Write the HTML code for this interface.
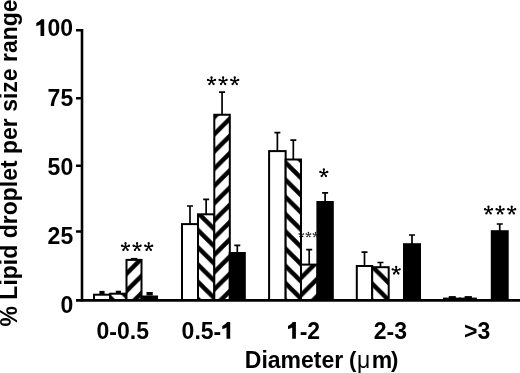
<!DOCTYPE html>
<html><head><meta charset="utf-8"><style>
html,body{margin:0;padding:0;background:#fff;}
body{width:520px;height:373px;overflow:hidden;}
svg{display:block;filter:grayscale(1);}
text{font-family:"Liberation Sans",sans-serif;font-weight:bold;fill:#000;}
text.n{font-weight:normal;}
</style></head><body>
<svg width="520" height="373" viewBox="0 0 520 373">
<defs>
<pattern id="bs" patternUnits="userSpaceOnUse" width="17.24" height="17.24" patternTransform="translate(0 14.90)">
<rect width="17.24" height="17.24" fill="#fff"/>
<path d="M-5 -5L22.24 22.24M-22.24 -5L5 22.24M12.24 -5L39.48 22.24" stroke="#000" stroke-width="4.5" fill="none"/>
</pattern>
<pattern id="fs" patternUnits="userSpaceOnUse" width="17.24" height="17.24" patternTransform="translate(0 3.70)">
<rect width="17.24" height="17.24" fill="#fff"/>
<path d="M-5 22.24L22.24 -5M-22.24 22.24L5 -5M12.24 22.24L39.48 -5" stroke="#000" stroke-width="4.5" fill="none"/>
</pattern>
<pattern id="fs2" patternUnits="userSpaceOnUse" width="17.24" height="17.24" patternTransform="translate(0 10)">
<rect width="17.24" height="17.24" fill="#fff"/>
<path d="M-5 22.24L22.24 -5M-22.24 22.24L5 -5M12.24 22.24L39.48 -5" stroke="#000" stroke-width="4.5" fill="none"/>
</pattern>
</defs>
<g stroke="#000" stroke-width="2.0">
<rect x="94" y="294.7" width="16.2" height="5.3" fill="#fff"/>
<rect x="110.2" y="293.7" width="16.3" height="6.3" fill="url(#bs)"/>
<rect x="126.5" y="259.9" width="15" height="40.1" fill="url(#fs)"/>
<rect x="141.5" y="296.5" width="15.5" height="3.5" fill="#000"/>
<rect x="182" y="224.1" width="16" height="75.9" fill="#fff"/>
<rect x="198" y="214.3" width="16.3" height="85.7" fill="url(#bs)"/>
<rect x="214.3" y="114.75" width="15.5" height="185.25" fill="url(#fs)"/>
<rect x="229.8" y="253" width="15" height="47" fill="#000"/>
<rect x="269.1" y="151.1" width="16.55" height="148.9" fill="#fff"/>
<rect x="285.65" y="159.5" width="15.35" height="140.5" fill="url(#bs)"/>
<rect x="301" y="264.6" width="16.4" height="35.4" fill="url(#fs2)"/>
<rect x="317.4" y="202" width="15.4" height="98" fill="#000"/>
<rect x="356.8" y="266" width="15.4" height="34" fill="#fff"/>
<rect x="372.2" y="267.2" width="16.5" height="32.8" fill="url(#bs)"/>
<rect x="404" y="244.2" width="16" height="55.8" fill="#000"/>
<rect x="444" y="298.6" width="16" height="1.4" fill="#fff"/>
<rect x="460" y="298.6" width="15.9" height="1.4" fill="url(#bs)"/>
<rect x="491.8" y="231.2" width="15.9" height="68.8" fill="#000"/>
</g>
<g stroke="#000" stroke-width="1.7" fill="none">
<path d="M190 224.1V206M187 206H193"/>
<path d="M206.15 214.3V199.3M203.15 199.3H209.15"/>
<path d="M222.05 114.75V92.2M219.05 92.2H225.05"/>
<path d="M237.3 253V245.3M234.3 245.3H240.3"/>
<path d="M277.38 151.1V132.7M274.38 132.7H280.38"/>
<path d="M293.32 159.5V140.2M290.32 140.2H296.32"/>
<path d="M309.2 264.6V249.7M306.2 249.7H312.2"/>
<path d="M325.1 202V192.8M322.1 192.8H328.1"/>
<path d="M364.5 266V252.2M361.5 252.2H367.5"/>
<path d="M380.45 267.2V262.5M377.45 262.5H383.45"/>
<path d="M412 244.2V235M409 235H415"/>
<path d="M499.75 231.2V224M496.75 224H502.75"/>
</g>
<g stroke="#000" fill="none">
<path d="M82 29V301.5" stroke-width="2.6"/>
<path d="M76 300.3H520" stroke-width="2.8"/>
<path d="M76 30.2H82M76 98.2H82M76 165.8H82M76 231.5H82" stroke-width="2.4"/>
</g>
<g font-size="23" text-anchor="end">
<text x="73" y="36">00</text>
<text x="73.2" y="105.8">75</text>
<text x="73.2" y="175">50</text>
<text x="73.2" y="244">25</text>
<text x="73.2" y="313">0</text>
</g>
<g font-size="23" text-anchor="middle">
<text x="122.75" y="339.3">0<tspan dy="1">-</tspan><tspan dy="-1">0.5</tspan></text>
<text x="181.6" y="339.3" text-anchor="start">0.5<tspan dy="1">-</tspan></text>
<text x="299.67" y="339.3" text-anchor="start"><tspan dy="1">-</tspan><tspan dy="-1">2</tspan></text>
<text x="390.4" y="339.3">2<tspan dy="1">-</tspan><tspan dy="-1">3</tspan></text>
<text x="477.2" y="339.3">&gt;3</text>
</g>
<g font-size="23">
<text x="244.8" y="367.8">Diameter</text>
<text x="349" y="367" font-size="22">(</text>
<text class="n" x="357" y="367.8">&#956;</text>
<text x="371.7" y="367.8">m</text>
<text x="391" y="367" font-size="22">)</text>
</g>
<text transform="translate(17 326.5) rotate(-90)" font-size="23">% Lipid droplet per size range</text>
<path d="M125.5 246.9L125.5 243.2M125.5 246.9L129.02 245.76M125.5 246.9L127.67 249.89M125.5 246.9L123.33 249.89M125.5 246.9L121.98 245.76M137.1 246.9L137.1 243.2M137.1 246.9L140.62 245.76M137.1 246.9L139.27 249.89M137.1 246.9L134.93 249.89M137.1 246.9L133.58 245.76M148.7 246.9L148.7 243.2M148.7 246.9L152.22 245.76M148.7 246.9L150.87 249.89M148.7 246.9L146.53 249.89M148.7 246.9L145.18 245.76M211.5 81.1L211.5 77.4M211.5 81.1L215.02 79.96M211.5 81.1L213.67 84.09M211.5 81.1L209.33 84.09M211.5 81.1L207.98 79.96M223.1 81.1L223.1 77.4M223.1 81.1L226.62 79.96M223.1 81.1L225.27 84.09M223.1 81.1L220.93 84.09M223.1 81.1L219.58 79.96M234.7 81.1L234.7 77.4M234.7 81.1L238.22 79.96M234.7 81.1L236.87 84.09M234.7 81.1L232.53 84.09M234.7 81.1L231.18 79.96M488.5 210.4L488.5 206.7M488.5 210.4L492.02 209.26M488.5 210.4L490.67 213.39M488.5 210.4L486.33 213.39M488.5 210.4L484.98 209.26M500.1 210.4L500.1 206.7M500.1 210.4L503.62 209.26M500.1 210.4L502.27 213.39M500.1 210.4L497.93 213.39M500.1 210.4L496.58 209.26M511.7 210.4L511.7 206.7M511.7 210.4L515.22 209.26M511.7 210.4L513.87 213.39M511.7 210.4L509.53 213.39M511.7 210.4L508.18 209.26M323.8 173.1L323.8 169.4M323.8 173.1L327.32 171.96M323.8 173.1L325.97 176.09M323.8 173.1L321.63 176.09M323.8 173.1L320.28 171.96M396.2 270.5L396.2 266.8M396.2 270.5L399.72 269.36M396.2 270.5L398.37 273.49M396.2 270.5L394.03 273.49M396.2 270.5L392.68 269.36" stroke="#000" stroke-width="1.5" fill="none"/>
<g fill="#000"><circle cx="125.5" cy="243.2" r="1.15"/><circle cx="129.02" cy="245.76" r="1.15"/><circle cx="127.67" cy="249.89" r="1.15"/><circle cx="123.33" cy="249.89" r="1.15"/><circle cx="121.98" cy="245.76" r="1.15"/><circle cx="137.1" cy="243.2" r="1.15"/><circle cx="140.62" cy="245.76" r="1.15"/><circle cx="139.27" cy="249.89" r="1.15"/><circle cx="134.93" cy="249.89" r="1.15"/><circle cx="133.58" cy="245.76" r="1.15"/><circle cx="148.7" cy="243.2" r="1.15"/><circle cx="152.22" cy="245.76" r="1.15"/><circle cx="150.87" cy="249.89" r="1.15"/><circle cx="146.53" cy="249.89" r="1.15"/><circle cx="145.18" cy="245.76" r="1.15"/><circle cx="211.5" cy="77.4" r="1.15"/><circle cx="215.02" cy="79.96" r="1.15"/><circle cx="213.67" cy="84.09" r="1.15"/><circle cx="209.33" cy="84.09" r="1.15"/><circle cx="207.98" cy="79.96" r="1.15"/><circle cx="223.1" cy="77.4" r="1.15"/><circle cx="226.62" cy="79.96" r="1.15"/><circle cx="225.27" cy="84.09" r="1.15"/><circle cx="220.93" cy="84.09" r="1.15"/><circle cx="219.58" cy="79.96" r="1.15"/><circle cx="234.7" cy="77.4" r="1.15"/><circle cx="238.22" cy="79.96" r="1.15"/><circle cx="236.87" cy="84.09" r="1.15"/><circle cx="232.53" cy="84.09" r="1.15"/><circle cx="231.18" cy="79.96" r="1.15"/><circle cx="488.5" cy="206.7" r="1.15"/><circle cx="492.02" cy="209.26" r="1.15"/><circle cx="490.67" cy="213.39" r="1.15"/><circle cx="486.33" cy="213.39" r="1.15"/><circle cx="484.98" cy="209.26" r="1.15"/><circle cx="500.1" cy="206.7" r="1.15"/><circle cx="503.62" cy="209.26" r="1.15"/><circle cx="502.27" cy="213.39" r="1.15"/><circle cx="497.93" cy="213.39" r="1.15"/><circle cx="496.58" cy="209.26" r="1.15"/><circle cx="511.7" cy="206.7" r="1.15"/><circle cx="515.22" cy="209.26" r="1.15"/><circle cx="513.87" cy="213.39" r="1.15"/><circle cx="509.53" cy="213.39" r="1.15"/><circle cx="508.18" cy="209.26" r="1.15"/><circle cx="323.8" cy="169.4" r="1.15"/><circle cx="327.32" cy="171.96" r="1.15"/><circle cx="325.97" cy="176.09" r="1.15"/><circle cx="321.63" cy="176.09" r="1.15"/><circle cx="320.28" cy="171.96" r="1.15"/><circle cx="396.2" cy="266.8" r="1.15"/><circle cx="399.72" cy="269.36" r="1.15"/><circle cx="398.37" cy="273.49" r="1.15"/><circle cx="394.03" cy="273.49" r="1.15"/><circle cx="392.68" cy="269.36" r="1.15"/></g>
<path d="M301.3 234.7L301.3 232.4M301.3 234.7L303.49 233.99M301.3 234.7L302.65 236.56M301.3 234.7L299.95 236.56M301.3 234.7L299.11 233.99M308.4 234.7L308.4 232.4M308.4 234.7L310.59 233.99M308.4 234.7L309.75 236.56M308.4 234.7L307.05 236.56M308.4 234.7L306.21 233.99M315.5 234.7L315.5 232.4M315.5 234.7L317.69 233.99M315.5 234.7L316.85 236.56M315.5 234.7L314.15 236.56M315.5 234.7L313.31 233.99" stroke="#111" stroke-width="0.8" fill="none"/>
<g fill="#111"><circle cx="301.3" cy="232.4" r="0.7"/><circle cx="303.49" cy="233.99" r="0.7"/><circle cx="302.65" cy="236.56" r="0.7"/><circle cx="299.95" cy="236.56" r="0.7"/><circle cx="299.11" cy="233.99" r="0.7"/><circle cx="308.4" cy="232.4" r="0.7"/><circle cx="310.59" cy="233.99" r="0.7"/><circle cx="309.75" cy="236.56" r="0.7"/><circle cx="307.05" cy="236.56" r="0.7"/><circle cx="306.21" cy="233.99" r="0.7"/><circle cx="315.5" cy="232.4" r="0.7"/><circle cx="317.69" cy="233.99" r="0.7"/><circle cx="316.85" cy="236.56" r="0.7"/><circle cx="314.15" cy="236.56" r="0.7"/><circle cx="313.31" cy="233.99" r="0.7"/></g>
<path fill="#000" d="M44.2 35.9L40.5 35.9L40.5 24.5Q38.6 25.6 36.3 26L36.3 23Q39.6 21.7 41.2 19.2L44.2 19.2ZM230.2 338.8L226.5 338.8L226.5 327.4Q224.6 328.5 222.3 328.9L222.3 325.9Q225.6 324.6 227.2 322.1L230.2 322.1ZM295.9 338.8L292.2 338.8L292.2 327.4Q290.3 328.5 288 328.9L288 325.9Q291.3 324.6 292.9 322.1L295.9 322.1Z"/>
<g fill="#000"><rect x="130.8" y="257.9" width="6.6" height="2.1"/><rect x="99.4" y="290.9" width="5.2" height="3.6"/><rect x="115.8" y="290.7" width="5.2" height="3.3"/><rect x="146.5" y="292" width="6.25" height="3.5"/><rect x="448.8" y="296.1" width="7" height="2.4"/><rect x="464.6" y="296.1" width="7.3" height="2.4"/></g>
</svg>
</body></html>
